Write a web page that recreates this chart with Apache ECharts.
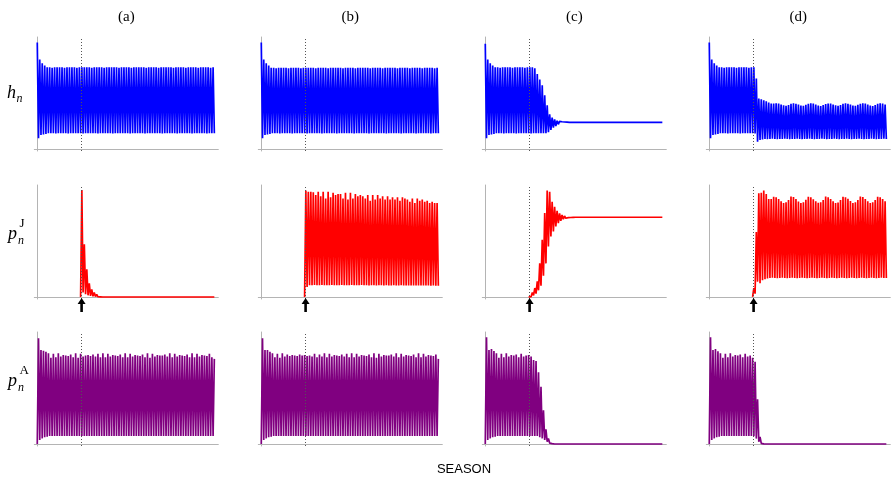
<!DOCTYPE html>
<html><head><meta charset="utf-8">
<script src="https://cdn.jsdelivr.net/npm/echarts@6/dist/echarts.min.js"></script>
<style>html,body{margin:0;padding:0;background:#fff}#c{width:891px;height:482px}</style>
</head><body><div id="c"></div><script>
// ---- text ----
const columnLabels = ['(a)', '(b)', '(c)', '(d)'];
const xAxisLabel = 'SEASON';
// invasion time (sample index) marked by dotted line and arrow
const invasionIndex = 35.8;

// ---- h_n : peaks / troughs per cycle (relative units, 100 = top of panel) ----
const hA_peaks = [95,80,76.5,74.5,73,73,72.5,73,73,73, 73,72.5,73,73,73,73,72.5,73,73,73, 73,73,72.5,73,73,73,73,72.5,73,73, 73,73,73,72.5,73,73,73,73,72.5,73, 73,73,73,73,72.5,73,73,73,73,72.5, 73,73,73,73,73,72.5,73,73,73,73, 72.5,73,73,73,73,72.5,73,73,73,73, 72.5,73];
const hA_troughs = [9.5,12.5,13,13.5,14,14,14,13.8,14,14, 14,14,13.8,14,14,14,14,14,13.8,14, 14,14,14,14,13.8,14,14,14,14,14, 13.8,14,14,14,14,14,14,13.8,14,14, 14,14,14,13.8,14,14,14,14,14,14, 13.8,14,14,14,14,14,13.8,14,14,14, 14,14,13.8,14,14,14,14,14,13.8,14, 14,14];
const hB_peaks = [95,80,76.5,74.5,72.5,72.5,72,72.5,72.5,72.5, 72.5,72,72.5,72.5,72.5,72.5,72,72.5,72.5,72.5, 72.5,72.5,72,72.5,72.5,72.5,72.5,72,72.5,72.5, 72.5,72.5,72.5,72,72.5,72.5,72.5,72.5,72,72.5, 72.5,72.5,72.5,72.5,72,72.5,72.5,72.5,72.5,72, 72.5,72.5,72.5,72.5,72.5,72,72.5,72.5,72.5,72.5, 72,72.5,72.5,72.5,72.5,72,72.5,72.5,72.5,72.5, 72,72.5];
const hB_troughs = [9.5,12.5,13,13.5,14,14,14,13.8,14,14, 14,14,13.8,14,14,14,14,14,13.8,14, 14,14,14,14,13.8,14,14,14,14,14, 13.8,14,14,14,14,14,14,13.8,14,14, 14,14,14,13.8,14,14,14,14,14,14, 13.8,14,14,14,14,14,13.8,14,14,14, 14,14,13.8,14,14,14,14,14,13.8,14, 14,14];
const hC_peaks = [94,80,76.5,74.5,73,73,72.5,73,73,73, 73,72.5,73,73,73,73,72.5,73,73,73, 72,67,62,57,48,39,31,28,26.5,25.3, 24.7,24.3,24.1,24,23.8,23.8,23.8,23.8,23.8,23.8, 23.8,23.8,23.8,23.8,23.8,23.8,23.8,23.8,23.8,23.8, 23.8,23.8,23.8,23.8,23.8,23.8,23.8,23.8,23.8,23.8, 23.8,23.8,23.8,23.8,23.8,23.8,23.8,23.8,23.8,23.8, 23.8,23.8];
const hC_troughs = [9.5,12.5,13,13.5,14,14,14,13.8,14,14, 14,14,13.8,14,14,14,14,14,13.8,14, 14,14,14,14,14,15,17,19,20.5,22, 23,23.4,23.6,23.7,23.8,23.8,23.8,23.8,23.8,23.8, 23.8,23.8,23.8,23.8,23.8,23.8,23.8,23.8,23.8,23.8, 23.8,23.8,23.8,23.8,23.8,23.8,23.8,23.8,23.8,23.8, 23.8,23.8,23.8,23.8,23.8,23.8,23.8,23.8,23.8,23.8, 23.8,23.8];
const hD_peaks = [95,80,76.5,74.5,73,73,72.5,73,73,73, 73,72.5,73,73,73,73,72.5,73,73,63, 45,44.5,43.5,42.5,41.5,40.5,40.5,40.8,40.5,39.8, 39,38.5,39.3,40.3,40.8,40.4,39.6,38.8,38.5,39.4, 40.4,40.8,40.5,39.7,38.9,38.4,39.2,40.2,40.7,40.6, 39.8,39,38.5,39.3,40.4,40.8,40.4,39.6,38.9,38.5, 39.4,40.3,40.8,40.5,39.7,38.9,38.4,39.3,40.4,40.8, 40.5,39.8];
const hD_troughs = [9.5,12.5,13,13.5,14,14,14,13.8,14,14, 14,14,13.8,14,14,14,14,14,13.8,6.5, 8,8.5,9,8.8,9,9.2,9,8.8,9,9, 9.2,9,8.8,9,9,9.2,9,8.8,9,9, 9.2,9,8.8,9,9,9.2,9,8.8,9,9, 9.2,9,8.8,9,9,9.2,9,8.8,9,9, 9.2,9,8.8,9,9,9.2,9,8.8,9,9, 9.2,9];

// ---- p_n^J : peaks / troughs per cycle (null = species absent) ----
const pJA_peaks = [null,null,null,null,null,null,null,null,null,null, null,null,null,null,null,null,null,null,95.5,47, 24.7,12.2,6.8,3.9,2.4,1.5,0.9,0.5,0.3,0.2, 0.1,0,0,0,0,0,0,0,0,0, 0,0,0,0,0,0,0,0,0,0, 0,0,0,0,0,0,0,0,0,0, 0,0,0,0,0,0,0,0,0,0, 0,0];
const pJA_troughs = [null,null,null,null,null,null,null,null,null,null, null,null,null,null,null,null,null,0,4,2.5, 1.5,1,0.6,0.4,0.2,0.1,0,0,0,0, 0,0,0,0,0,0,0,0,0,0, 0,0,0,0,0,0,0,0,0,0, 0,0,0,0,0,0,0,0,0,0, 0,0,0,0,0,0,0,0,0,0, 0,0];
const pJB_peaks = [null,null,null,null,null,null,null,null,null,null, null,null,null,null,null,null,null,null,95,94, 94,93.5,91,94,90,94,88,94,89,93, 91,92,92,88,93,87,93,88,92,90, 91,90,88,91,86,91,87,91,88,90, 87,90,87,89,87,89,86,89,88,87, 85,88,84,88,86,87,85,86,84,85, 84,84];
const pJB_troughs = [null,null,null,null,null,null,null,null,null,null, null,null,null,null,null,null,null,0,9,10.5, 10.5,10.8,10.5,10.5,10.8,10.5,10.5,10.5,10.8,10.5, 10.5,10.5,10.8,10.5,10.5,10.5,10.8,10.5,10.5,10.5, 10.8,10.5,10.5,10.3,10.5,10.5,10.3,10.5,10.5,10.3, 10.5,10.3,10.3,10.5,10.3,10.3,10.5,10.3,10.2,10.3, 10.2,10.3,10.2,10.2,10.3,10.2,10.2,10.2,10.1,10.2, 10.1,10];
const pJC_peaks = [null,null,null,null,null,null,null,null,null,null, null,null,null,null,null,null,null,null,1,4, 8,14,30,51,75,95,94,85,80.5,77, 74.7,73.2,72.3,71.7,71.4,71.3,71.2,71.2,71.2,71.2, 71.2,71.2,71.2,71.2,71.2,71.2,71.2,71.2,71.2,71.2, 71.2,71.2,71.2,71.2,71.2,71.2,71.2,71.2,71.2,71.2, 71.2,71.2,71.2,71.2,71.2,71.2,71.2,71.2,71.2,71.2, 71.2,71.2];
const pJC_troughs = [null,null,null,null,null,null,null,null,null,null, null,null,null,null,null,null,null,0,0.3,1.5, 3,6,10,19,30,45,54,58.5,63,66, 68,69.5,70.3,70.8,71,71.1,71.2,71.2,71.2,71.2, 71.2,71.2,71.2,71.2,71.2,71.2,71.2,71.2,71.2,71.2, 71.2,71.2,71.2,71.2,71.2,71.2,71.2,71.2,71.2,71.2, 71.2,71.2,71.2,71.2,71.2,71.2,71.2,71.2,71.2,71.2, 71.2,71.2];
const pJD_peaks = [null,null,null,null,null,null,null,null,null,null, null,null,null,null,null,null,null,null,8,58, 92.6,93,95,92,87.5,87.5,89.6,89,87.5,85.5, 84,84.5,86.5,89.8,89.2,87.5,85.3,84,84.6,86.8, 89.6,89,87.3,85.5,84.2,84.5,86.5,89.7,89.1,87.5, 85.5,83.9,84.4,86.6,89.6,89,87.6,85.6,84,84.5, 86.5,89.8,89.2,87.4,85.4,84,84.6,86.7,89.6,89, 87.5,85.5];
const pJD_troughs = [null,null,null,null,null,null,null,null,null,null, null,null,null,null,null,null,null,0,3,13.7, 12.2,15,15.8,16.5,17,17.2,17,16.8,17,17.2, 17,16.8,17,17.2,17,16.8,17,17.2,17,16.8, 17,17.2,17,16.8,17,17.2,17,16.8,17,17.2, 17,16.8,17,17.2,17,16.8,17,17.2,17,16.8, 17,17.2,17,16.8,17,17.2,17,16.8,17,17.2, 17,17];

// ---- p_n^A : troughs / peaks per cycle ----
const pAA_troughs = [0,3.6,5,6,6.5,7.1,7.1,7.1,7.1,7.1, 7.1,7.1,7.1,7.1,7.1,7.1,7.1,7.1,7.1,7.1, 7.1,7.1,7.1,7.1,7.1,7.1,7.1,7.1,7.1,7.1, 7.1,7.1,7.1,7.1,7.1,7.1,7.1,7.1,7.1,7.1, 7.1,7.1,7.1,7.1,7.1,7.1,7.1,7.1,7.1,7.1, 7.1,7.1,7.1,7.1,7.1,7.1,7.1,7.1,7.1,7.1, 7.1,7.1,7.1,7.1,7.1,7.1,7.1,7.1,7.1,7.1, 7.1,7.1];
const pAA_peaks = [94.4,84,83.3,82.4,81,77,80.5,77.5,81,78, 79.5,79,78.5,80,77.5,81,77,80.5,78,79, 79.5,78.5,80,78,80.5,77.5,81,77.5,80.5,78, 79.5,79,78.5,80,77.5,81,77.5,80.5,78,79.5, 79,78.5,80,77.5,81,77,80.5,78,79.5,79, 79,80,78,81,77.5,80.5,78,79.5,79,78.5, 80,77.5,81,77.5,80.5,78,79.5,79,78.5,80.5, 77.5,76];
const pAB_troughs = [0,3.6,5,6,6.5,7.1,7.1,7.1,7.1,7.1, 7.1,7.1,7.1,7.1,7.1,7.1,7.1,7.1,7.1,7.1, 7.1,7.1,7.1,7.1,7.1,7.1,7.1,7.1,7.1,7.1, 7.1,7.1,7.1,7.1,7.1,7.1,7.1,7.1,7.1,7.1, 7.1,7.1,7.1,7.1,7.1,7.1,7.1,7.1,7.1,7.1, 7.1,7.1,7.1,7.1,7.1,7.1,7.1,7.1,7.1,7.1, 7.1,7.1,7.1,7.1,7.1,7.1,7.1,7.1,7.1,7.1, 7.1,7.1];
const pAB_peaks = [94.4,84,84,82.4,81,77.5,80.5,77,81,78, 80,78.5,79.5,79,78.5,80,79,79.5,78.5,79, 78,80.5,77.5,80,78,81,77.5,80.5,78,79.5, 79,78.5,80,78,80.5,77.5,81,77.5,80.5,78, 79.5,79,78.5,80,77.5,81,77,80.5,78,79.5, 79,79,80,78,81,77.5,80.5,78,79.5,79, 78.5,80,77.5,81,77.5,80.5,78,79.5,79,78.5, 80,76];
const pAC_troughs = [0,3.6,5,6,6.5,7.1,7.1,7.1,7.1,7.1, 7.1,7.1,7.1,7.1,7.1,7.1,7.1,7.1,7.1,7.1, 7.1,7.1,6,5,3.6,2,0.8,0.3,0,0, 0,0,0,0,0,0,0,0,0,0, 0,0,0,0,0,0,0,0,0,0, 0,0,0,0,0,0,0,0,0,0, 0,0,0,0,0,0,0,0,0,0, 0,0];
const pAC_peaks = [95.2,84,84.8,83,81,77,80.5,77.5,81,78, 79.5,79,80,77.5,80.5,78,79,79.5,78,75, 74,64,51,30,13,5,2.5,1.2,0.5,0.2, 0,0,0,0,0,0,0,0,0,0, 0,0,0,0,0,0,0,0,0,0, 0,0,0,0,0,0,0,0,0,0, 0,0,0,0,0,0,0,0,0,0, 0,0];
const pAD_troughs = [0,3.6,5,6,6.5,7.1,7.1,7.1,7.1,7.1, 7.1,7.1,7.1,7.1,7.1,7.1,7.1,7.1,7,4.8, 2,0.5,0.1,0,0,0,0,0,0,0, 0,0,0,0,0,0,0,0,0,0, 0,0,0,0,0,0,0,0,0,0, 0,0,0,0,0,0,0,0,0,0, 0,0,0,0,0,0,0,0,0,0, 0,0];
const pAD_peaks = [95.2,84,84.8,82.9,81,77,80.5,77.5,81,78, 79.5,79,80,77.5,80.5,78,79,77,73.5,40, 6.3,1.5,0.4,0.1,0,0,0,0,0,0, 0,0,0,0,0,0,0,0,0,0, 0,0,0,0,0,0,0,0,0,0, 0,0,0,0,0,0,0,0,0,0, 0,0,0,0,0,0,0,0,0,0, 0,0];

// ---- layout ----
const BLUE = '#0000ff', RED = '#ff0000', PURPLE = '#800080';
const gridLeft = [34.3, 258.3, 482.3, 706.3];
const gridTop = [37, 185, 332];
const gridW = 184, gridH = 114;

// panels: [row, col, firstValues, secondValues, color]
const panels = [
  [0,0,hA_peaks,hA_troughs,BLUE],[0,1,hB_peaks,hB_troughs,BLUE],[0,2,hC_peaks,hC_troughs,BLUE],[0,3,hD_peaks,hD_troughs,BLUE],
  [1,0,pJA_peaks,pJA_troughs,RED],[1,1,pJB_peaks,pJB_troughs,RED],[1,2,pJC_peaks,pJC_troughs,RED],[1,3,pJD_peaks,pJD_troughs,RED],
  [2,0,pAA_troughs,pAA_peaks,PURPLE],[2,1,pAB_troughs,pAB_peaks,PURPLE],[2,2,pAC_troughs,pAC_peaks,PURPLE],[2,3,pAD_troughs,pAD_peaks,PURPLE]
];

function interleave(a, b) {
  const out = [];
  for (let k = 0; k < a.length; k++) { out.push(a[k], b[k]); }
  return out.map((v, i) => v == null ? null : [i, v]).filter(Boolean);
}

const grids = [], xAxes = [], yAxes = [], series = [];
const axisLine = { show: true, onZero: true, lineStyle: { color: '#b4b4b4', width: 1 } };
panels.forEach((p, i) => {
  const [r, c, a, b, color] = p;
  grids.push({ left: gridLeft[c], top: gridTop[r], width: gridW, height: gridH, containLabel: false });
  xAxes.push({ type: 'value', gridIndex: i, min: -2.4, max: 146.2, axisLine, axisTick: { show: false }, axisLabel: { show: false }, splitLine: { show: false } });
  yAxes.push({ type: 'value', gridIndex: i, min: -1.8, max: 100, axisLine, axisTick: { show: false }, axisLabel: { show: false }, splitLine: { show: false } });
  series.push({
    type: 'line', xAxisIndex: i, yAxisIndex: i, data: interleave(a, b),
    showSymbol: false, symbol: 'none', silent: true,
    lineStyle: { color, width: 1.7, join: 'bevel' }, z: 2,
    markLine: { silent: true, symbol: ['none', 'none'], label: { show: false },
      lineStyle: { type: [1, 2], color: '#555', width: 1 }, data: [{ xAxis: invasionIndex }], z: 5 }
  });
  if (r === 1) {
    series.push({
      type: 'scatter', xAxisIndex: i, yAxisIndex: i, data: [[invasionIndex, 0]], clip: false, silent: true,
      symbol: 'path://M4,0 L8,6 L5.3,6 L5.3,14 L2.7,14 L2.7,6 L0,6 Z',
      symbolSize: [8, 14], symbolOffset: [0, 8], itemStyle: { color: '#000', opacity: 1 }, z: 6
    });
  }
});

const serif = '"Liberation Serif", "DejaVu Serif", serif';
const graphics = [];
columnLabels.forEach((t, c) => {
  graphics.push({ type: 'text', x: gridLeft[c] + 92, y: 17, style: { text: t, font: '15px ' + serif, fill: '#000', align: 'center', verticalAlign: 'middle' } });
});
// row labels (math italic)
function mathLabel(x, y, base, sup, sub, supDy, subDy) {
  graphics.push({ type: 'text', x: x, y: y, style: { text: base, font: 'italic 18px ' + serif, fill: '#000', align: 'left', verticalAlign: 'middle' } });
  if (sup) graphics.push({ type: 'text', x: x + 11.5, y: y + supDy, style: { text: sup, font: '13px ' + serif, fill: '#000', align: 'left', verticalAlign: 'middle' } });
  if (sub) graphics.push({ type: 'text', x: x + (base === 'h' ? 9.5 : 10), y: y + subDy, style: { text: sub, font: 'italic 12px ' + serif, fill: '#000', align: 'left', verticalAlign: 'middle' } });
}
mathLabel(7, 93, 'h', null, 'n', 0, 6);
mathLabel(8, 234, 'p', 'J', 'n', -10, 7);
mathLabel(8, 381, 'p', 'A', 'n', -10, 7);
graphics.push({ type: 'text', x: 464, y: 469, style: { text: xAxisLabel, font: '13px "Liberation Sans", Arial, sans-serif', fill: '#000', align: 'center', verticalAlign: 'middle' } });

const chart = echarts.init(document.getElementById('c'), null, { renderer: 'canvas' });
chart.setOption({
  animation: false,
  backgroundColor: '#fff',
  grid: grids, xAxis: xAxes, yAxis: yAxes, series: series,
  graphic: graphics
});
</script></body></html>
